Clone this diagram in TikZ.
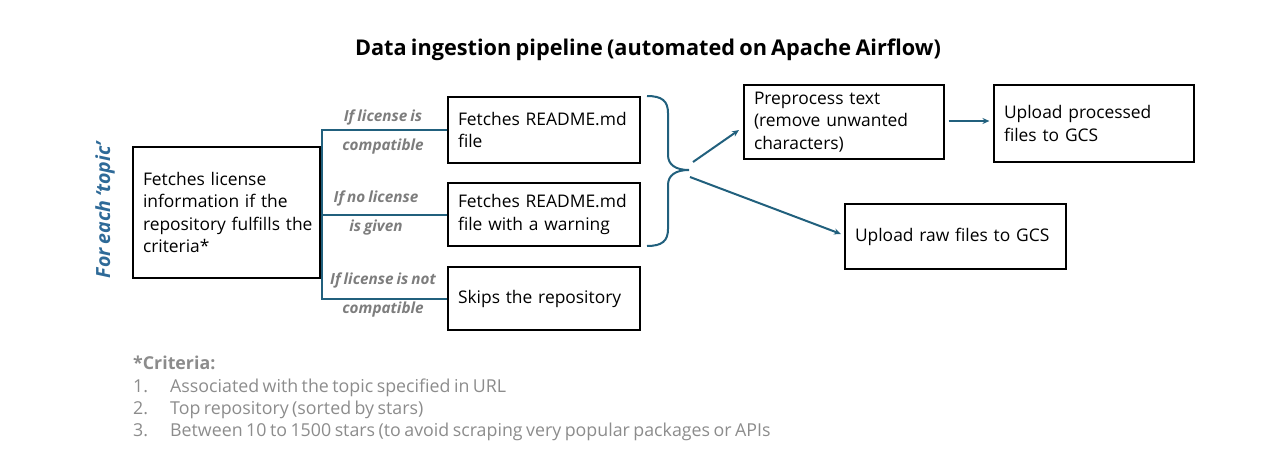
\documentclass[tikz,border=0pt]{standalone}
\usepackage{fontspec}
\setmainfont{Open Sans}[WordSpace=0.75]
\usetikzlibrary{arrows.meta}
\definecolor{lineteal}{RGB}{33,96,125}
\definecolor{topicblue}{RGB}{46,106,152}
\definecolor{lblgray}{RGB}{125,125,125}
\definecolor{critgray}{RGB}{140,140,140}
\tikzset{
  box/.style={draw=black, line width=1.1pt, align=left, inner xsep=10pt, inner ysep=0pt,
    font=\fontsize{17.4}{22.5}\selectfont},
  conn/.style={draw=lineteal, line width=2pt},
  arr/.style={draw=lineteal, line width=2pt, -{Stealth[length=7pt,width=6pt]}},
  lbl/.style={text=lblgray, font=\fontsize{15.3}{29}\selectfont\bfseries\itshape, align=center, inner sep=0pt},
}
\begin{document}
\begin{tikzpicture}[x=1pt,y=-1pt]
\useasboundingbox (0,0) rectangle (1280,466);
\node[font=\fontsize{21.7}{26}\selectfont\bfseries] (title) at (648,50) {Data ingestion pipeline (automated on Apache Airflow)};
\node[rotate=90, text=topicblue, font=\fontsize{19.5}{22}\selectfont\bfseries\itshape] (topic) at (105,210) {For each ‘topic’};
\node[box, minimum width=187pt, minimum height=131pt, text width=167pt] (lic) at (226.5,212.5) {\mbox{Fetches license}\\\mbox{information if the}\\\mbox{repository fulfills the}\\\mbox{criteria*}};
\node[box, minimum width=192pt, minimum height=66pt, text width=172pt] (rd1) at (544,130) {\mbox{Fetches README.md}\\file};
\node[box, minimum width=192pt, minimum height=63pt, text width=172pt] (rd2) at (544,214.5) {\mbox{Fetches README.md}\\\mbox{file with a warning}};
\node[box, minimum width=192pt, minimum height=63pt, text width=172pt] (skip) at (544,298.5) {\mbox{Skips the repository}};
\node[box, minimum width=200pt, minimum height=74pt, text width=180pt] (prep) at (844,122) {\mbox{Preprocess text}\\\mbox{(remove unwanted}\\characters)};
\node[box, minimum width=200pt, minimum height=77pt, text width=180pt] (upp) at (1094,123.5) {\mbox{Upload processed}\\\mbox{files to GCS}};
\node[box, minimum width=221pt, minimum height=65pt, text width=201pt] (upr) at (955.5,236.5) {\mbox{Upload raw files to GCS}};
% branches
\draw[conn] (rd1.west) -- ([xshift=1.5pt]rd1.west -| lic.east) -- ([xshift=1.5pt]skip.west -| lic.east) -- (skip.west);
\draw[conn] (rd2.west) -- ([xshift=1.5pt]rd2.west -| lic.east);
\node[lbl] (l1) at (383,131.5) {If license is\\compatible};
\node[lbl] (l2) at (376,213) {If no license\\is given};
\node[lbl] (l3) at (383,295) {If license is not\\compatible};
% brace
\coordinate (bt) at (647,96);
\coordinate (bb) at (647,246);
\coordinate (btip) at (689,170);
\draw[conn] (bt) .. controls (662,96) and (668,101) .. (668,113) -- (668,155)
  .. controls (668,165) and (676,170) .. (btip)
  .. controls (676,170) and (668,175) .. (668,185) -- (668,229)
  .. controls (668,241) and (662,246) .. (bb);
\coordinate (a1s) at (693,162);
\coordinate (a1e) at (739,130);
\coordinate (a2s) at (690,177);
\coordinate (a2e) at (841,234);
\draw[arr] (a1s) -- (a1e);
\draw[arr] (a2s) -- (a2e);
\draw[arr] ([xshift=4pt]prep.east |- 0,121) -- ([xshift=-4pt]upp.west |- 0,121);
% criteria
\node[anchor=north west, align=left, inner sep=0pt, text=critgray, font=\fontsize{17.8}{22.3}\selectfont] (crit) at (133,356)
{\textbf{*Criteria:}\\
\makebox[37pt][l]{1.}Associated with the topic specified in URL\\
\makebox[37pt][l]{2.}Top repository (sorted by stars)\\
\makebox[37pt][l]{3.}Between 10 to 1500 stars (to avoid scraping very popular packages or APIs};
\end{tikzpicture}
\end{document}
